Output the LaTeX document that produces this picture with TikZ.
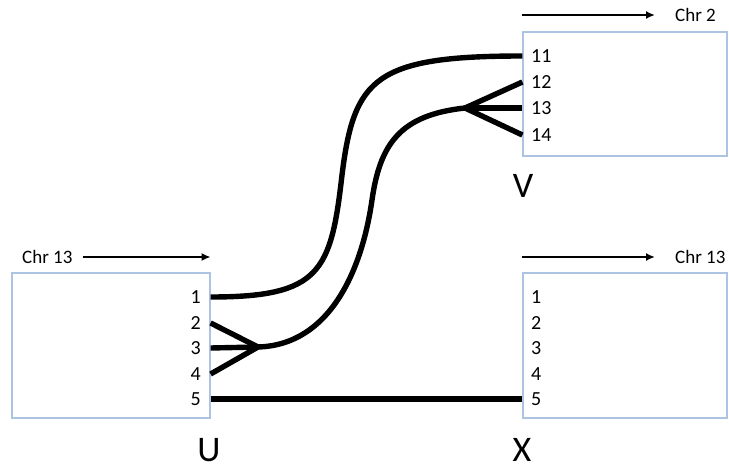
\documentclass[tikz,border=0pt]{standalone}
\usepackage{fontspec}
\setmainfont{Carlito}
\usetikzlibrary{arrows.meta}
\definecolor{boxblue}{RGB}{172,196,226}
\tikzset{
  chrbox/.style={draw=boxblue, line width=1.2pt, fill=white, inner sep=0pt},
  link/.style={line width=5.4pt, line join=round},
  chrarrow/.style={line width=1.7pt, -{Latex[length=9pt,width=8pt]}},
  num/.style={inner sep=0pt, font=\fontsize{20}{24}\selectfont},
  chrlabel/.style={inner sep=0pt, font=\fontsize{19}{22}\selectfont},
  part/.style={inner sep=0pt, font=\fontsize{36}{40}\selectfont}
}
\begin{document}
\begin{tikzpicture}[x=1pt,y=-1pt]
    \useasboundingbox (0,0) rectangle (729,471);

    % boxes
    \node[chrbox, minimum width=198pt, minimum height=145pt] (u) at (111,345.5) {};
    \node[chrbox, minimum width=204pt, minimum height=124pt] (v) at (625,94) {};
    \node[chrbox, minimum width=204pt, minimum height=145pt] (x) at (625,345.5) {};

    \node[part] (ul) at (209,450) {U};
    \node[part] (vl) at (523,186) {V};
    \node[part] (xl) at (522,450) {X};

    % chromosome arrows
    \node[chrlabel, anchor=west] (chru) at (22,257) {Chr 13};
    \draw[chrarrow] ([xshift=10pt]chru.east) -- (u.east |- chru);
    \node[chrlabel, anchor=west] (chrv) at (675,15) {Chr 2};
    \draw[chrarrow] (v.west |- chrv) -- ([xshift=-20pt]chrv.west);
    \node[chrlabel, anchor=west] (chrx) at (675,257) {Chr 13};
    \draw[chrarrow] (x.west |- chrx) -- ([xshift=-20pt]chrx.west);

    % numbers
    \foreach \n/\y in {1/297,2/323,3/348,4/374,5/399}{
      \node[num, anchor=east] (u\n) at (201,\y) {\n};
      \node[num, anchor=west] (x\n) at (531,\y) {\n};
    }
    \foreach \n/\y in {11/56,12/82,13/108,14/135}{
      \node[num, anchor=west] (v\n) at (531,\y) {\n};
    }

    % junctions
    \coordinate (ju) at (258,347);
    \coordinate (jv) at (465,108);

    % links
    \draw[link] (u.east |- u1) .. controls (320,297) and (331,272) .. (342,175)
      .. controls (354,78) and (375,56) .. (v.west |- v11);
    \foreach \n in {2,3,4}
      \draw[link] (u.east |- u\n) -- (ju);
    \draw[link] (ju) .. controls (330,345) and (362,270) .. (372,200)
      .. controls (380,144) and (400,115) .. (jv);
    \foreach \n in {12,13,14}
      \draw[link] (jv) -- (v.west |- v\n);
    \draw[link] (u.east |- u5) -- (x.west |- x5);

\end{tikzpicture}
\end{document}
